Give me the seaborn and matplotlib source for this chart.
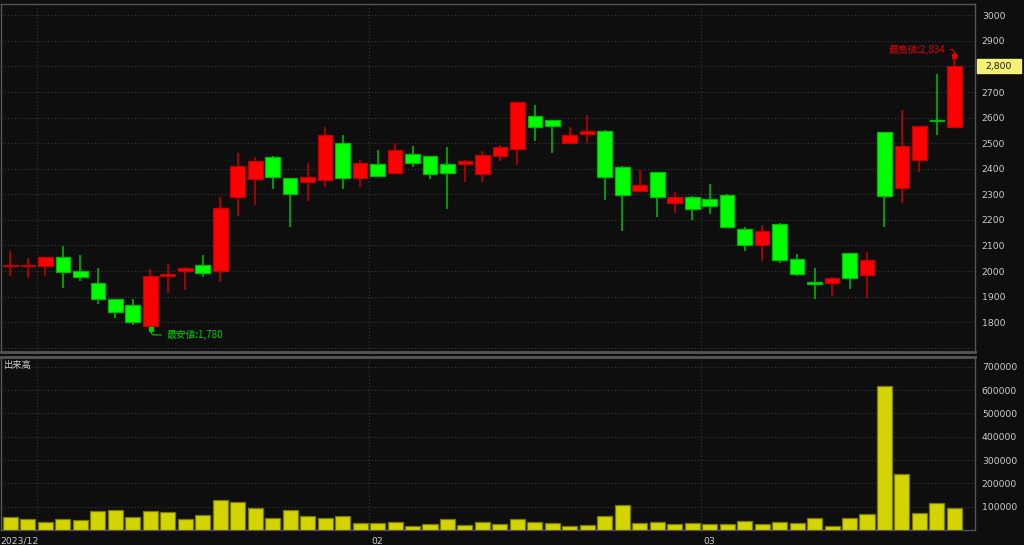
import matplotlib
matplotlib.use("Agg")
import matplotlib.pyplot as plt
import matplotlib.transforms as mtransforms
from matplotlib.patches import Rectangle
import seaborn as sns
import pandas as pd

# ---------------- data ----------------
opens = [2019, 2018, 2021, 2054, 2000, 1952, 1889, 1866, 1785, 1980,
         2000, 2022, 2000, 2288, 2361, 2445, 2363, 2350, 2355, 2500,
         2365, 2418, 2382, 2459, 2449, 2418, 2420, 2378, 2451, 2479,
         2608, 2590, 2500, 2537, 2549, 2407, 2313, 2387, 2265, 2291,
         2281, 2298, 2163, 2102, 2184, 2046, 1953, 1952, 2069, 1983,
         2543, 2324, 2434, 2590, 2565]
highs = [2080, 2050, 2056, 2099, 2063, 2011, 1891, 1890, 2007, 2026,
         2014, 2063, 2291, 2461, 2445, 2450, 2365, 2423, 2562, 2532,
         2436, 2474, 2500, 2488, 2451, 2484, 2433, 2471, 2492, 2662,
         2651, 2592, 2564, 2612, 2551, 2409, 2395, 2389, 2308, 2293,
         2339, 2300, 2173, 2180, 2186, 2065, 2011, 1975, 2071, 2074,
         2545, 2630, 2568, 2771, 2834]
lows = [1982, 1974, 1982, 1932, 1961, 1871, 1815, 1787, 1780, 1915,
        1926, 1978, 1958, 2217, 2258, 2322, 2173, 2275, 2328, 2320,
        2330, 2370, 2380, 2408, 2361, 2243, 2350, 2347, 2432, 2415,
        2509, 2461, 2498, 2500, 2278, 2158, 2311, 2213, 2227, 2198,
        2223, 2170, 2078, 2040, 2030, 1982, 1892, 1901, 1930, 1896,
        2171, 2265, 2386, 2530, 2563]
closes = [2021, 2022, 2054, 1997, 1975, 1889, 1841, 1799, 1980, 1990,
          2012, 1993, 2245, 2411, 2432, 2369, 2300, 2368, 2532, 2365,
          2421, 2372, 2472, 2424, 2378, 2385, 2432, 2453, 2484, 2660,
          2565, 2569, 2531, 2548, 2368, 2299, 2335, 2288, 2291, 2241,
          2254, 2172, 2103, 2155, 2043, 1989, 1951, 1973, 1971, 2042,
          2294, 2488, 2566, 2586, 2800]
volumes = [57500, 46700, 35400, 46700, 42500, 80000, 84000, 57500, 80000, 76000,
           49000, 66000, 130000, 120000, 94000, 53000, 87000, 62000, 53000, 62000,
           28000, 28000, 32500, 17500, 26000, 46700, 21500, 32500, 26000, 46700,
           32500, 28000, 17500, 21500, 62000, 106000, 28000, 32500, 26000, 29000,
           25000, 25000, 39000, 25000, 36000, 32000, 52000, 18000, 52000, 69000,
           618000, 239000, 73000, 116000, 93000]
month_ticks = [1.5, 20.5, 39.5]
month_labels = ["2023/12", "02", "03"]
price_grid = list(range(1700, 3001, 100))
vol_ticks = list(range(100000, 700001, 100000))
last_price = 2800
last_price_label = "2,800"
high_label = "最高値:2,834"
high_value = 2834
low_label = "最安値:1,780"
low_value = 1780
vol_title = "出来高"

df = pd.DataFrame({"i": range(len(opens)), "open": opens, "high": highs,
                   "low": lows, "close": closes, "volume": volumes})

# ---------------- style ----------------
BG = "#0e0e0e"
GRID = "#3a3a3a"
SPINE = "#555555"
TXT = "#cccccc"
sns.set_theme(style="dark", rc={"axes.facecolor": BG, "figure.facecolor": BG})
plt.rcParams["font.family"] = ["DejaVu Sans", "Noto Sans CJK JP"]

fig = plt.figure(figsize=(10.24, 5.45), dpi=100)
axp = fig.add_axes([0.001, 0.354, 0.951, 0.639])
axv = fig.add_axes([0.001, 0.0275, 0.951, 0.317])

XL = (-0.54, 55.17)

# ---------------- candles ----------------
up = df["close"] >= df["open"]
body_low = df[["open", "close"]].min(axis=1)
body_h = (df["close"] - df["open"]).abs().clip(lower=5)
col_body = ["#ff0000" if u else "#00ff00" for u in up]
col_edge = ["#c00000" if u else "#00b800" for u in up]
col_wick = ["#b00000" if u else "#00a800" for u in up]

axp.vlines(df["i"], df["low"], df["high"], colors=col_wick, lw=1.3, zorder=2)
axp.bar(df["i"], body_h, bottom=body_low, width=0.84, color=col_body,
        edgecolor=col_edge, linewidth=0.9, zorder=3)

axp.set_xlim(*XL)
axp.set_ylim(1683, 3045)
axp.set_yticks(price_grid)
axp.set_yticklabels(["" if (p == 1700 or p == last_price) else str(p) for p in price_grid])
axp.yaxis.tick_right()
axp.tick_params(axis="y", length=0, pad=5, labelsize=6.7, labelcolor=TXT)
axp.set_xticks(month_ticks)
axp.tick_params(axis="x", length=0, labelbottom=False)
axp.grid(True, color=GRID, lw=0.8, ls=(0, (1, 2)))
for s in axp.spines.values():
    s.set_color(SPINE)
    s.set_linewidth(1.0)
axp.spines["bottom"].set_linewidth(2.0)

# last price box (figure pixel coordinates)
fig.patches.append(Rectangle((977 / 1024, (545 - 73) / 545), 44 / 1024, 14 / 545,
                             transform=fig.transFigure, facecolor="#f5f07a",
                             edgecolor="#f5f07a", zorder=5))
fig.text(999 / 1024, (545 - 66) / 545, last_price_label, ha="center", va="center",
         fontsize=6.7, color="#202000", zorder=6)

# high annotation
axp.annotate(high_label, xy=(54, high_value + 6), xytext=(53.5, high_value + 32),
             ha="right", va="center", fontsize=7, color="#e00000",
             family=["Noto Sans CJK JP", "DejaVu Sans"],
             arrowprops=dict(arrowstyle="-", color="#e00000", lw=0.8,
                             connectionstyle="angle,angleA=0,angleB=90,rad=3",
                             shrinkA=1, shrinkB=1))
axp.plot([54], [high_value + 6], marker="s", ms=2.5, color="#e00000", zorder=4)

# low annotation
axp.annotate(low_label, xy=(8.05, low_value - 6), xytext=(8.9, low_value - 30),
             ha="left", va="center", fontsize=7, color="#00d000",
             family=["Noto Sans CJK JP", "DejaVu Sans"],
             arrowprops=dict(arrowstyle="-", color="#00d000", lw=0.8,
                             connectionstyle="angle,angleA=0,angleB=90,rad=3",
                             shrinkA=1, shrinkB=1))
axp.plot([8.05], [low_value - 6], marker="s", ms=2.5, color="#00d000", zorder=4)

# ---------------- volume ----------------
sns.barplot(data=df, x="i", y="volume", ax=axv, color="#d4d400",
            saturation=1, width=0.86, edgecolor="#7a7a00", linewidth=0.9, zorder=3)
axv.set_xlim(*XL)
axv.set_ylim(0, 741000)
axv.set_yticks(vol_ticks)
axv.set_yticklabels([str(v) for v in vol_ticks])
axv.yaxis.tick_right()
axv.tick_params(axis="y", length=0, pad=5, labelsize=6.7, labelcolor=TXT)
axv.set_xticks(month_ticks)
axv.set_xticklabels(month_labels)
axv.tick_params(axis="x", length=3, width=0.8, color="#777777", pad=2,
                labelsize=6.7, labelcolor=TXT)
offset = mtransforms.ScaledTranslation(2.5 / 100, 0, fig.dpi_scale_trans)
lbls = axv.get_xticklabels()
lbls[0].set_ha("right")
for lb in lbls[1:]:
    lb.set_ha("left")
for lb in lbls:
    lb.set_transform(lb.get_transform() + offset)
axv.set_xlabel("")
axv.set_ylabel("")
axv.grid(True, color=GRID, lw=0.8, ls=(0, (1, 2)))
for s in axv.spines.values():
    s.set_color(SPINE)
    s.set_linewidth(1.0)
axv.spines["top"].set_linewidth(2.0)
axv.text(0.003, 0.95, vol_title, transform=axv.transAxes, ha="left", va="center",
         fontsize=6.7, color=TXT, family=["Noto Sans CJK JP", "DejaVu Sans"])

fig.savefig("out.png", dpi=100, facecolor=BG)
